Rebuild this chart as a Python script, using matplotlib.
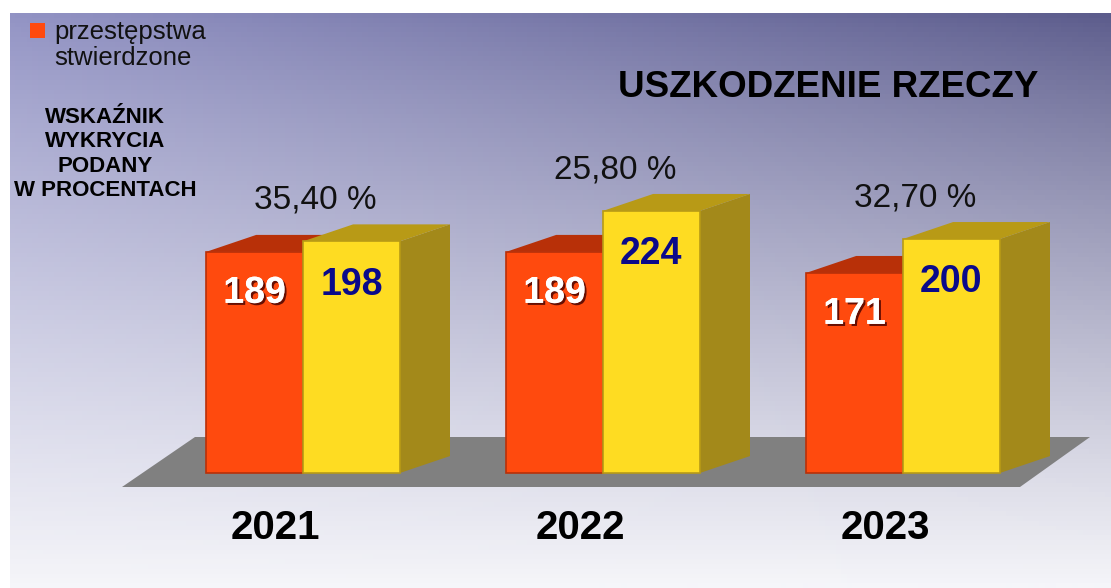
import numpy as np
import matplotlib.pyplot as plt
from matplotlib.patches import Polygon
import matplotlib.patheffects as pe

plt.rcParams['font.family'] = ['Liberation Sans', 'DejaVu Sans']

years = ['2021', '2022', '2023']
stwierdzone = [189, 189, 171]
wykryte = [198, 224, 200]
wskaznik = ['35,40 %', '25,80 %', '32,70 %']

W, H = 1111, 588
fig = plt.figure(figsize=(W / 100, H / 100), dpi=100)

# gradient background (starts a little in from the left/top edge)
bg = fig.add_axes([10 / W, 0, 1 - 10 / W, (H - 13) / H])
bg.set_axis_off()
nx, ny = 200, 120
gx = np.linspace(0, 1, nx)[None, :, None]
gy = np.linspace(0, 1, ny)[:, None, None]
top_l = np.array([0x92, 0x93, 0xc4]) / 255
top_r = np.array([0x5c, 0x5c, 0x8c]) / 255
bot = np.array([0xf5, 0xf5, 0xf9]) / 255
top = top_l + (top_r - top_l) * gx
img = top + (bot - top) * (gy ** 0.85)
bg.imshow(np.clip(img, 0, 1), aspect='auto', extent=[0, 1, 1, 0])
bg.set_xlim(0, 1)
bg.set_ylim(1, 0)

# floor (grey parallelogram), in pixel coordinates of the figure
fl = fig.add_axes([0, 0, 1, 1])
fl.set_axis_off()
fl.set_xlim(0, W)
fl.set_ylim(H, 0)
fl.add_patch(Polygon([(122, 487), (1020, 487), (1090, 437), (195, 437)],
                     closed=True, fc='#808080', ec='none'))

# data axes: y=0 at pixel 473, 1.17 px per unit, groups 300 px apart
ax = fig.add_axes([0, 0, 1, 1])
ax.patch.set_alpha(0)
ax.set_axis_off()
ppu = 1.17
ax.set_ylim(-(H - 473) / ppu, 473 / ppu)
ax.set_xlim(-303 / 300, (W - 303) / 300)

x = np.arange(len(years))
bw = 0.323
dx, dy = 0.167, 14.5

or_front, or_top, or_side = '#ff4a0e', '#b83008', '#c23a10'
ye_front, ye_top, ye_side = '#fedc22', '#b89a16', '#a3891a'

for vals, off, cf, ct, cs, z in [(stwierdzone, -bw / 2, or_front, or_top, or_side, 2),
                                 (wykryte, bw / 2, ye_front, ye_top, ye_side, 3)]:
    xs = x + off
    for xi, v in zip(xs, vals):
        l, r = xi - bw / 2, xi + bw / 2
        ax.add_patch(Polygon([(r, 0), (r + dx, dy), (r + dx, v + dy), (r, v)],
                             fc=cs, ec='none', zorder=z))
        ax.add_patch(Polygon([(l, v), (l + dx, v + dy), (r + dx, v + dy), (r, v)],
                             fc=ct, ec='none', zorder=z))
    ax.bar(xs, vals, width=bw, color=cf, edgecolor=ct, linewidth=1.2, zorder=z + 0.1)

shadow = [pe.withSimplePatchShadow(offset=(1.5, -1.5), shadow_rgbFace='#400000', alpha=0.8),
          pe.Normal()]
for xi, v in zip(x - bw / 2, stwierdzone):
    ax.text(xi, v - 35, str(v), ha='center', va='center', fontsize=27,
            fontweight='bold', color='white', path_effects=shadow, zorder=10)
for xi, v in zip(x + bw / 2, wykryte):
    ax.text(xi, v - 37, str(v), ha='center', va='center', fontsize=27,
            fontweight='bold', color='#0a0a8a', zorder=10)

for xi, v, s in zip(x, wykryte, wskaznik):
    ax.text(xi + 0.04, v + 35, s, ha='center', va='center', fontsize=24,
            color='#111111', zorder=10)

# year labels sit under the floor (perspective shifts them a bit left)
for xi, s in zip(x, years):
    ax.text(xi * 1.017 - 0.093, -47, s, ha='center', va='center', fontsize=29,
            fontweight='bold', color='black', zorder=10)

# legend and side texts
fig.text(828 / W, 1 - 88 / H, 'USZKODZENIE RZECZY', ha='center', va='center',
         fontsize=26.5, fontweight='bold', color='black')
fl.add_patch(plt.Rectangle((30, 23), 15, 15, fc='#ff4a0e', ec='none'))
fig.text(54 / W, 1 - 45 / H, 'przestępstwa\nstwierdzone', ha='left', va='center',
         fontsize=18.5, color='#111111', linespacing=1.15)
fig.text(105 / W, 1 - 154 / H, 'WSKAŹNIK\nWYKRYCIA\nPODANY\nW PROCENTACH',
         ha='center', va='center', fontsize=16, fontweight='bold', color='black',
         linespacing=1.22)

fig.savefig('out.png', dpi=100)
